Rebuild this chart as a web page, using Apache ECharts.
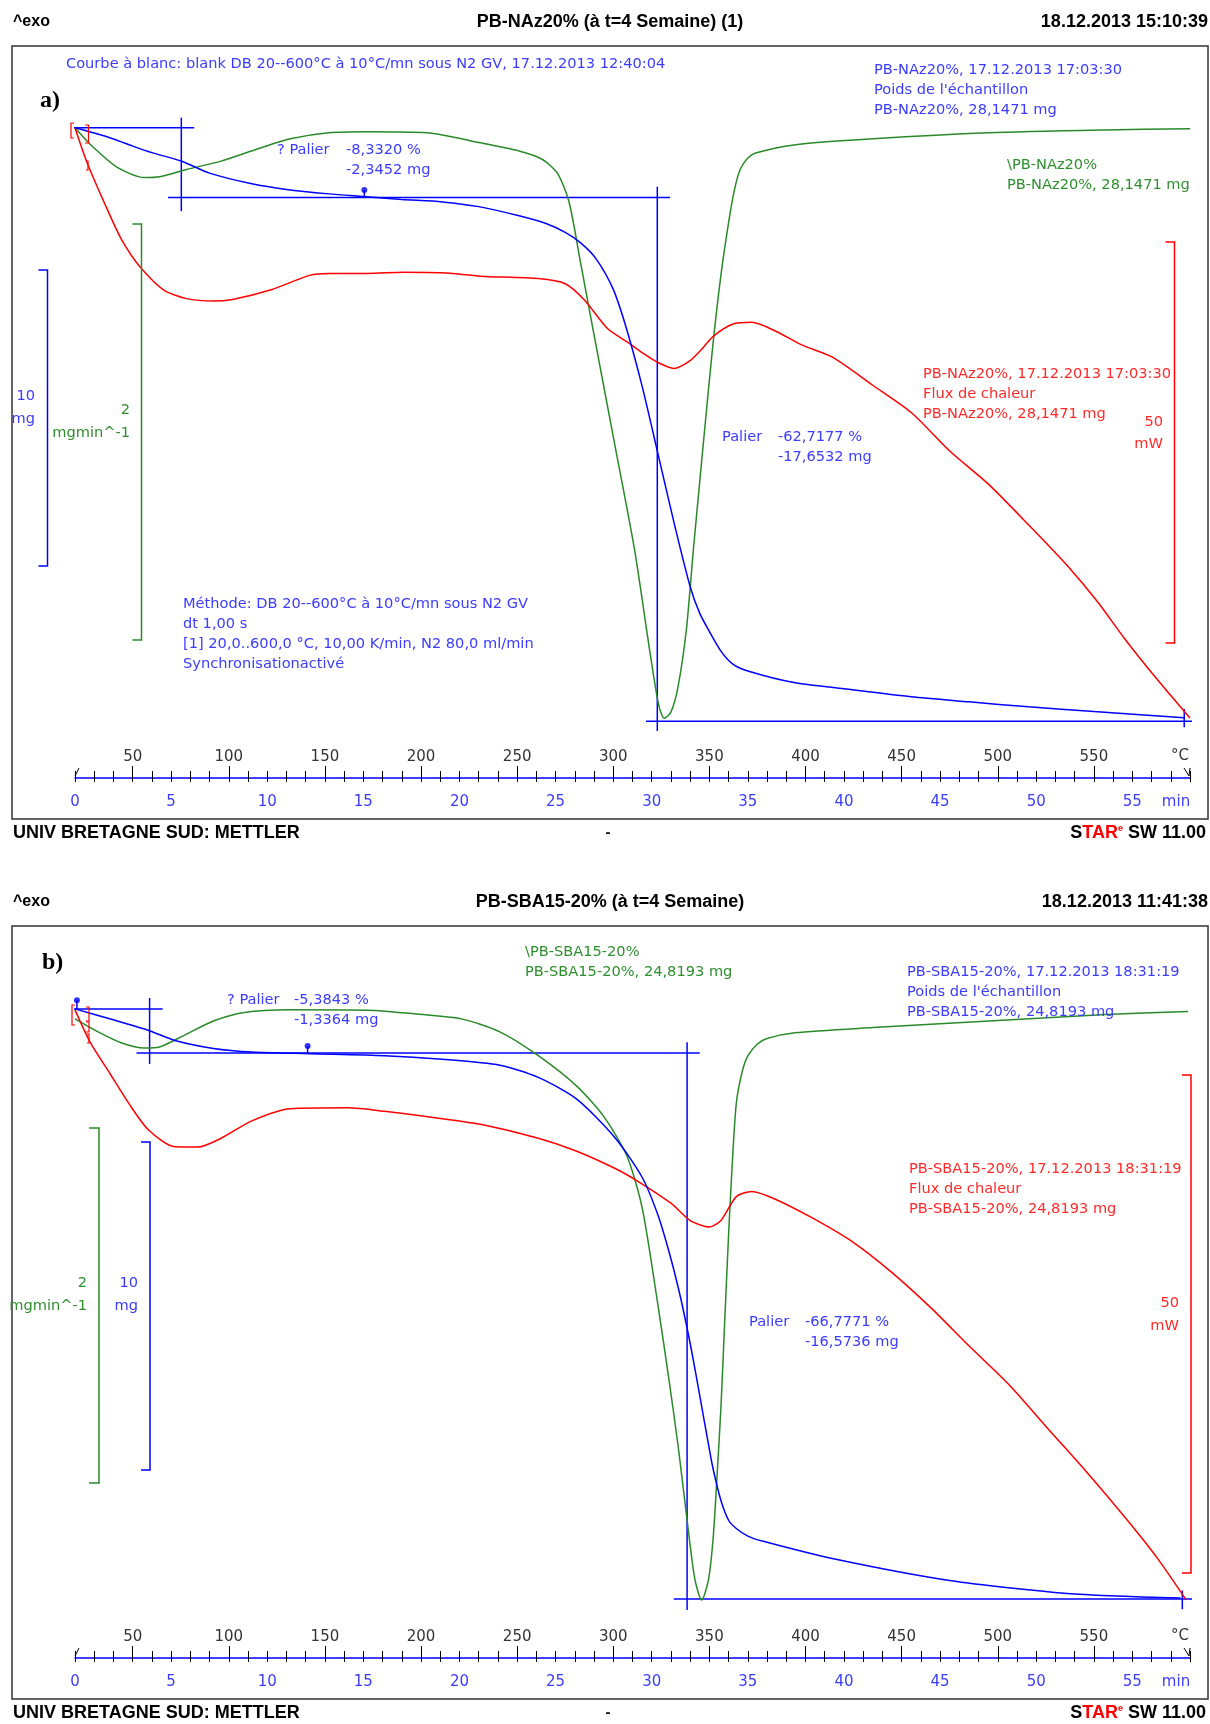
<!DOCTYPE html>
<html><head><meta charset="utf-8">
<script src="https://cdn.jsdelivr.net/npm/echarts@6/dist/echarts.min.js"></script>
<style>html,body{margin:0;padding:0;background:#fff}#c{width:1210px;height:1724px}</style>
</head><body><div id="c"></div>
<script>
// ---------- DATA ----------
const timeTicks = [0,5,10,15,20,25,30,35,40,45,50,55];          // min
const tempTicks = [50,100,150,200,250,300,350,400,450,500,550];  // °C
const startTemp = 20, heatRate = 10, timeMax = 58;

// Panel a) PB-NAz20%
const sampleA = 28.1471;             // mg
const stepsA = [-2.3452, -17.6532];  // mg
const massA = [[0,28.15],[1,27.97],[2,27.77],[3,27.53],[4,27.31],[5.55,27.02],[7,26.62],[9.2,26.26],[11,26.07],[13.2,25.92],[15,25.83],[17,25.73],[19.1,25.65],[21,25.49],[23.1,25.18],[24.5,24.92],[25.5,24.62],[26.3,24.27],[27.1,23.74],[28,22.7],[28.7,21.35],[29.5,19.44],[30.35,17.09],[31.2,14.73],[32,12.68],[32.5,11.78],[33,11.17],[33.6,10.51],[34.2,10.08],[35,9.84],[37.4,9.45],[40,9.24],[43.5,8.97],[46.5,8.8],[49.6,8.63],[53,8.47],[55.6,8.36],[57.7,8.26]];
const dtgA = [[0,0],[0.8,-0.08],[2.2,-0.19],[3.6,-0.239],[4.4,-0.235],[5.8,-0.2],[7.6,-0.16],[9.6,-0.098],[11.2,-0.053],[13.2,-0.024],[15.2,-0.019],[18.3,-0.024],[21.1,-0.072],[23.1,-0.111],[24.3,-0.151],[25.1,-0.219],[25.7,-0.356],[26.3,-0.649],[27.1,-1.043],[28.1,-1.532],[29.1,-2.022],[29.9,-2.512],[30.35,-2.766],[30.65,-2.835],[31,-2.805],[31.36,-2.688],[31.8,-2.411],[32.17,-2.022],[32.7,-1.5],[33.18,-1.043],[33.6,-0.707],[34,-0.454],[34.3,-0.299],[34.6,-0.2],[35,-0.145],[35.4,-0.121],[37.4,-0.082],[41.5,-0.053],[47.5,-0.024],[53.6,-0.01],[58,-0.004]];
const heatA = [[0,0],[0.6,-4.16],[1.6,-9.75],[2.4,-13.84],[3.4,-17.4],[4.6,-20.2],[5.8,-21.3],[7.2,-21.6],[8.2,-21.4],[10.2,-20.2],[12.2,-18.4],[13.2,-18.16],[15.2,-18.16],[17.1,-18.0],[19.1,-18.07],[21.1,-18.5],[24.1,-18.8],[25.5,-19.44],[26.5,-21.47],[27.7,-25.03],[28.8,-26.82],[29.6,-28.2],[30.35,-29.3],[31.15,-30.0],[31.96,-29.1],[32.6,-27.6],[33.2,-26.0],[34.2,-24.5],[35.2,-24.26],[36.4,-25.3],[37.8,-27.07],[39.4,-28.6],[41.5,-32.1],[43.5,-35.5],[45.5,-40.3],[47.5,-44.4],[49.6,-49.5],[51.6,-54.55],[53.2,-59.13],[54.6,-63.7],[56.3,-68.8],[58,-73.6]];

// Panel b) PB-SBA15-20%
const sampleB = 24.8193;
const stepsB = [-1.3364, -16.5736];
const massB = [[0,24.82],[1.8,24.52],[3.9,24.15],[5.2,23.86],[7.2,23.62],[9.2,23.51],[12.2,23.46],[16.1,23.4],[19.1,23.29],[22.1,23.11],[24.1,22.74],[26.1,22.08],[28.1,20.9],[29.5,19.71],[30.3,18.6],[30.9,17.45],[31.4,16.31],[31.9,14.96],[32.25,13.89],[32.6,12.75],[32.95,11.61],[33.2,10.84],[33.6,9.9],[34,9.3],[34.4,9.05],[35,8.82],[35.8,8.66],[39.45,8.13],[45.5,7.47],[51.6,7.08],[57.5,6.94]];
const dtgB = [[0,-0.056],[1.2,-0.129],[2.4,-0.19],[3.6,-0.22],[4.4,-0.214],[5.6,-0.153],[7.2,-0.068],[8.8,-0.02],[11.2,-0.005],[15.2,-0.007],[18.1,-0.032],[20.1,-0.056],[22.1,-0.129],[24.1,-0.263],[26.1,-0.434],[27.5,-0.604],[28.7,-0.824],[29.5,-1.116],[30.28,-1.633],[30.9,-2.085],[31.4,-2.478],[31.9,-2.927],[32.25,-3.208],[32.6,-3.321],[32.95,-3.208],[33.2,-2.967],[33.4,-2.62],[33.6,-2.24],[33.8,-1.748],[34,-1.265],[34.2,-0.849],[34.4,-0.53],[34.7,-0.355],[35,-0.264],[35.5,-0.197],[36,-0.166],[37.45,-0.134],[41.5,-0.105],[47.55,-0.068],[53.6,-0.032],[57.9,-0.015]];
const heatB = [[0,-0.1],[0.8,-3.4],[1.8,-6.44],[2.8,-9.5],[3.8,-12.12],[5.2,-13.86],[6.4,-13.88],[7.6,-13.0],[9.2,-11.25],[11.2,-10.03],[14.2,-9.94],[16.1,-10.29],[19.1,-11.03],[21.1,-11.6],[24.1,-13.0],[26.1,-14.3],[28.1,-16.04],[29.3,-17.35],[31,-19.53],[32,-21.27],[33,-21.92],[33.6,-21.27],[34.4,-18.87],[35.2,-18.35],[36.4,-19.1],[38.4,-21.06],[40.5,-23.48],[42.5,-26.5],[44.5,-30.0],[46.5,-33.86],[48.6,-37.8],[50.6,-42.17],[52.6,-46.5],[54.7,-51.3],[56.3,-55.2],[57.8,-59.4]];

// ---------- STYLE / LAYOUT ----------
const BLUE='#0000ff', GREEN='#2a8a2a', RED='#ff0000';
const TBLUE='#3c3cff', TGREEN='#2f8f2f', TRED='#ff2a2a';
const FONT="'DejaVu Sans','Noto Sans',sans-serif";
const FS=14.6;
const HFONT="'Liberation Sans','Arial',sans-serif";
const GL=75, GW=1115, GH=640;
const P = [{top:100, ref:127.8, off:0}, {top:980, ref:1008.9, off:880}];
function yr(refVal, refPx, ppu, top){ const max = refVal + (refPx-top)/ppu; return {min:max-GH/ppu, max:max}; }

const scales = [
  [{ref:sampleA, ppu:29.67},{ref:0, ppu:208.3},{ref:0, ppu:8.02}],
  [{ref:sampleB, ppu:32.95},{ref:0, ppu:178},{ref:0, ppu:9.95}]
];
const grid=[], xAxis=[], yAxis=[];
const tempPos = tempTicks.map(T=>(T-startTemp)/heatRate);
[0,1].forEach(gi=>{
  for(let k=0;k<3;k++) grid.push({left:GL,width:GW,top:P[gi].top,height:GH});
  scales[gi].forEach(s=>{const r=yr(s.ref,P[gi].ref,s.ppu,P[gi].top);
    yAxis.push({type:'value',gridIndex:gi*3,show:false,min:r.min,max:r.max});});
  yAxis.push({type:'value',gridIndex:gi*3+1,show:false,min:0,max:1});
  yAxis.push({type:'value',gridIndex:gi*3+2,show:false,min:0,max:1});
  const base={type:'value',min:0,max:timeMax,interval:1,position:'bottom',offset:38,splitLine:{show:false}};
  xAxis.push(Object.assign({},base,{gridIndex:gi*3,axisLine:{onZero:false,lineStyle:{color:BLUE,width:1.5}},
    axisTick:{show:true,length:4,lineStyle:{color:'#000',width:1}},
    axisLabel:{customValues:timeTicks,color:TBLUE,fontSize:15,fontFamily:FONT,margin:17}}));
  xAxis.push(Object.assign({},base,{gridIndex:gi*3+1,axisLine:{show:false,onZero:false},
    axisTick:{show:true,inside:true,length:7,lineStyle:{color:'#000',width:1}},axisLabel:{show:false}}));
  xAxis.push(Object.assign({},base,{gridIndex:gi*3+2,axisLine:{show:false,onZero:false},
    axisTick:{show:true,inside:true,length:12,customValues:tempPos,lineStyle:{color:'#000',width:1}},
    axisLabel:{inside:true,customValues:tempPos,color:'#333',fontSize:15,fontFamily:FONT,margin:13,
      formatter:v=>String(Math.round(startTemp+heatRate*v))}}));
});

const series=[];
function curve(data,gi,yk,color){
  series.push({type:'line',data:data,xAxisIndex:gi*3,yAxisIndex:gi*5+yk,symbol:'none',smooth:0.25,
    lineStyle:{color:color,width:1.5},clip:false,silent:true,animation:false,z:3});
}
function seg(gi,p1,p2){
  series.push({type:'line',data:[p1,p2],xAxisIndex:gi*3,yAxisIndex:gi*5,symbol:'none',
    lineStyle:{color:BLUE,width:1.5},clip:false,silent:true,animation:false,z:2});
}
function pin(gi,t,v,vTop){
  seg(gi,[t,v],[t,vTop]);
  series.push({type:'scatter',data:[[t,vTop]],xAxisIndex:gi*3,yAxisIndex:gi*5,symbol:'circle',symbolSize:6,
    itemStyle:{color:BLUE},silent:true,animation:false,z:4});
}
// curves
curve(dtgA,0,1,GREEN); curve(heatA,0,2,RED); curve(massA,0,0,BLUE);
curve(dtgB,1,1,GREEN); curve(heatB,1,2,RED); curve(massB,1,0,BLUE);

// step evaluation guides
const LA=[sampleA, sampleA+stepsA[0], sampleA+stepsA[0]+stepsA[1]];
seg(0,[-0.57,LA[0]],[6.2,LA[0]]);
seg(0,[5.53,28.49],[5.53,25.34]);
seg(0,[4.84,LA[1]],[30.95,LA[1]]);
seg(0,[30.29,26.16],[30.29,7.82]);
seg(0,[29.7,LA[2]],[58.4,LA[2]]);
seg(0,[57.7,8.56],[57.7,7.94]);
pin(0,15.05,LA[1],26.05);
const LB=[sampleB, sampleB+stepsB[0], sampleB+stepsB[0]+stepsB[1]];
seg(1,[-0.57,LB[0]],[4.56,LB[0]]);
seg(1,[3.88,25.15],[3.88,23.15]);
seg(1,[3.2,LB[1]],[32.5,LB[1]]);
seg(1,[31.84,23.81],[31.84,6.58]);
seg(1,[31.15,LB[2]],[58.4,LB[2]]);
seg(1,[57.6,7.17],[57.6,6.6]);
pin(1,12.1,LB[1],23.69);
pin(1,0.1,LB[0],25.08);

// ---------- GRAPHIC TEXT ----------
const G=[];
function txt(x,y,text,color,size,opt){
  opt=opt||{};
  G.push({type:'text',x:x,y:y,silent:true,z:10,style:{text:text,fill:color,
    font:(opt.bold?'bold ':'')+size+'px '+(opt.family||FONT),
    textAlign:opt.align||'left',align:opt.align||'left',
    textVerticalAlign:'middle',verticalAlign:'middle',lineHeight:opt.lh||size+5}});
}
function poly(pts,color,w){G.push({type:'polyline',silent:true,z:5,shape:{points:pts},style:{stroke:color,lineWidth:w||1.5,fill:null}});}
function bracket(x,y1,y2,color,tick){poly([[x-tick,y1],[x,y1],[x,y2],[x-tick,y2]],color,1.5);}

const heads=[
 {exo:'^exo',title:'PB-NAz20% (à t=4 Semaine) (1)',date:'18.12.2013 15:10:39'},
 {exo:'^exo',title:'PB-SBA15-20% (à t=4 Semaine)',date:'18.12.2013 11:41:38'}];
[0,1].forEach(gi=>{
  const o=P[gi].off, h=heads[gi];
  txt(13,22+o,h.exo,'#000',16,{bold:true,family:HFONT});
  txt(610,22+o,h.title,'#000',18,{bold:true,family:HFONT,align:'center'});
  txt(1208,22+o,h.date,'#000',18,{bold:true,family:HFONT,align:'right'});
  G.push({type:'rect',silent:true,z:1,shape:{x:12,y:46+o,width:1196,height:773},style:{fill:null,stroke:'#333',lineWidth:1.5}});
  txt(13,833+o,'UNIV BRETAGNE SUD: METTLER','#000',18,{bold:true,family:HFONT});
  txt(608,833+o,'-','#000',15,{bold:true,family:HFONT,align:'center'});
  G.push({type:'text',x:1206,y:833+o,silent:true,z:10,style:{text:'{k|S}{r|TAR}{e|e}{k| SW 11.00}',
    textAlign:'right',align:'right',textVerticalAlign:'middle',verticalAlign:'middle',
    rich:{k:{fill:'#000',color:'#000',font:'bold 18px '+HFONT},r:{fill:'#ff0000',color:'#ff0000',font:'bold 18px '+HFONT},
          e:{fill:'#ff0000',color:'#ff0000',font:'bold 9px '+HFONT,verticalAlign:'top'}}}});
  txt(1180,756+o,'°C','#333',15,{align:'center'});
  txt(1176,802+o,'min',TBLUE,15,{align:'center'});
  poly([[79,768+o],[75,776+o]],'#000',1);
  poly([[1184,768+o],[1189,776+o],[1190,768+o]],'#000',1);
});

// panel a annotations
txt(66,64,'Courbe à blanc: blank DB 20--600°C à 10°C/mn sous N2 GV, 17.12.2013 12:40:04',TBLUE,FS);
txt(40,101,'a)','#000',24,{bold:true,family:"'Liberation Serif','DejaVu Serif',serif"});
txt(874,90,"PB-NAz20%, 17.12.2013 17:03:30\nPoids de l'échantillon\nPB-NAz20%, 28,1471 mg",TBLUE,FS,{lh:20});
txt(1007,175,'\\PB-NAz20%\nPB-NAz20%, 28,1471 mg',TGREEN,FS,{lh:20});
txt(277,150,'? Palier',TBLUE,FS);
txt(346,160,'-8,3320 %\n-2,3452 mg',TBLUE,FS,{lh:20});
txt(722,437,'Palier',TBLUE,FS);
txt(778,447,'-62,7177 %\n-17,6532 mg',TBLUE,FS,{lh:20});
txt(923,394,'PB-NAz20%, 17.12.2013 17:03:30\nFlux de chaleur\nPB-NAz20%, 28,1471 mg',TRED,FS,{lh:20});
txt(1163,433,'50\nmW',TRED,FS,{align:'right',lh:22});
txt(35,408,'10\nmg',TBLUE,FS,{align:'right',lh:23});
txt(130,422,'2\nmgmin^-1',TGREEN,FS,{align:'right',lh:23});
txt(183,634,'Méthode: DB 20--600°C à 10°C/mn sous N2 GV\ndt 1,00 s\n[1] 20,0..600,0 °C, 10,00 K/min, N2 80,0 ml/min\nSynchronisationactivé',TBLUE,FS,{lh:20});
bracket(47.5,270,566,BLUE,9);
bracket(141.5,224,640,GREEN,9);
bracket(1174.5,242,643,RED,9);
poly([[74,123],[71,123],[71,138],[74,138]],RED,1.2);
poly([[85,125],[88.5,125],[88.5,143],[85,143]],RED,1.2);
poly([[86,161],[88,161],[88,170],[86,170]],RED,1.2);

// panel b annotations
txt(42,963,'b)','#000',24,{bold:true,family:"'Liberation Serif','DejaVu Serif',serif"});
txt(525,962,'\\PB-SBA15-20%\nPB-SBA15-20%, 24,8193 mg',TGREEN,FS,{lh:20});
txt(907,992,"PB-SBA15-20%, 17.12.2013 18:31:19\nPoids de l'échantillon\nPB-SBA15-20%, 24,8193 mg",TBLUE,FS,{lh:20});
txt(227,1000,'? Palier',TBLUE,FS);
txt(294,1010,'-5,3843 %\n-1,3364 mg',TBLUE,FS,{lh:20});
txt(749,1322,'Palier',TBLUE,FS);
txt(805,1332,'-66,7771 %\n-16,5736 mg',TBLUE,FS,{lh:20});
txt(909,1189,'PB-SBA15-20%, 17.12.2013 18:31:19\nFlux de chaleur\nPB-SBA15-20%, 24,8193 mg',TRED,FS,{lh:20});
txt(1179,1315,'50\nmW',TRED,FS,{align:'right',lh:23});
txt(87,1295,'2\nmgmin^-1',TGREEN,FS,{align:'right',lh:23});
txt(138,1295,'10\nmg',TBLUE,FS,{align:'right',lh:23});
bracket(99,1128,1483,GREEN,10);
bracket(150,1142,1470,BLUE,9);
bracket(1191,1075,1573,RED,9);
poly([[75,1005],[72,1005],[72,1025],[75,1025]],RED,1.2);
poly([[86,1007],[89,1007],[89,1021],[86,1021]],RED,1.2);
poly([[86,1022],[89,1022],[89,1032],[86,1032]],RED,1.2);
poly([[87,1034],[89,1034],[89,1043],[87,1043]],RED,1.2);

const chart=echarts.init(document.getElementById('c'),null,{renderer:'canvas',width:1210,height:1724});
chart.setOption({
  animation:false, backgroundColor:'#fff',
  grid:grid, xAxis:xAxis, yAxis:yAxis, series:series, graphic:G
});
</script></body></html>
